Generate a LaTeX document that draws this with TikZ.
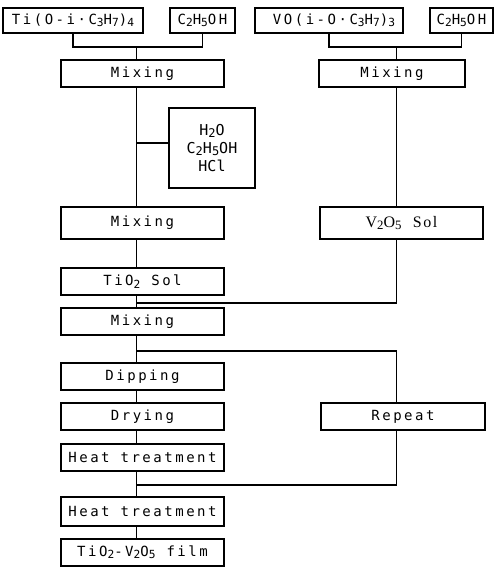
\documentclass[tikz,border=0pt]{standalone}
\usepackage{fontspec}
\usepackage{graphicx}
\usetikzlibrary{positioning}
\newfontfamily\labfont{DejaVu Sans Mono}[LetterSpace=18]
\newfontfamily\chemfont{DejaVu Sans Mono}
\newfontfamily\solfont{Liberation Serif}[LetterSpace=10]
\newcommand{\chs}[1]{\raisebox{-0.3ex}{\scalebox{0.8}{#1}}}

\begin{document}
\begin{tikzpicture}[x=1pt, y=-1pt, line width=1.3pt]
\tikzset{
  stepbox/.style={rectangle, draw=black, fill=white, line width=1.3pt, outer sep=0pt,
    minimum width=163pt, minimum height=27pt, inner xsep=1pt, inner ysep=0pt,
    align=center, font=\labfont\fontsize{14}{16}\selectfont},
  srcbox/.style={stepbox, minimum height=25pt},
  link/.style={draw=black, line width=1.3pt}
}
\useasboundingbox (0,0) rectangle (497,568);

\node[srcbox, anchor=north west, minimum width=140pt] (ti) at (3,8) {Ti(O-i·C\chs{3}H\chs{7})\chs{4}};
\node[srcbox, minimum width=65pt, right=27pt of ti] (etl) {C\chs{2}H\chs{5}OH};
\node[srcbox, minimum width=148pt, right=20pt of etl] (vo) {\hspace*{10pt}VO(i-O·C\chs{3}H\chs{7})\chs{3}};
\node[srcbox, minimum width=63pt, right=27pt of vo] (etr) {C\chs{2}H\chs{5}OH};

\node[stepbox, anchor=north west] (mixa) at (61,60) {Mixing};
\node[stepbox, below=120pt of mixa, minimum height=32pt] (mixb) {Mixing};
\node[stepbox, below=29pt of mixb] (tio) {TiO\chs{2} Sol};
\node[stepbox, below=13pt of tio] (mixc) {Mixing};
\node[stepbox, below=28pt of mixc] (dip) {Dipping};
\node[stepbox, below=13pt of dip] (dry) {Drying};
\node[stepbox, below=14pt of dry] (heata) {Heat treatment};
\node[stepbox, below=26pt of heata, minimum height=29pt] (heatb) {Heat treatment};
\node[stepbox, below=13pt of heatb] (film) {TiO\chs{2}-V\chs{2}O\chs{5} film};

\node[stepbox, anchor=north west, minimum width=86pt, minimum height=80pt,
  font=\chemfont\fontsize{15}{18}\selectfont] (wat) at (169,108)
  {H\chs{2}O\\C\chs{2}H\chs{5}OH\\HCl};

\node[stepbox, minimum width=146pt, right=95pt of mixa] (mixr) {Mixing};
\node[stepbox, minimum height=32pt, right=96pt of mixb,
  font=\solfont\fontsize{16}{18}\selectfont] (vso) {V\chs{2}O\chs{5}\ \ Sol};
\node[stepbox, minimum width=164pt, right=97pt of dry] (rep) {Repeat};

\coordinate (ja) at (136.5,47);
\coordinate (jb) at (396.5,47);
\coordinate (jc) at (136.5,303);
\coordinate (jd) at (136.5,351);
\coordinate (je) at (136.5,485);

\draw[link] (ti.south) |- (ja) -| (etl.south);
\draw[link] (ja) -- (ja |- mixa.north);
\draw[link] (vo.south) |- (jb) -| (etr.south);
\draw[link] (jb) -- (jb |- mixr.north);
\draw[link] (ja |- mixa.south) -- (ja |- mixb.north);
\draw[link] (ja |- wat.west) ++(0,-5) -- ([yshift=5pt]wat.west);
\draw[link] (ja |- mixb.south) -- (ja |- tio.north);
\draw[link] (jb |- mixr.south) -- (jb |- vso.north);
\draw[link] (jb |- vso.south) |- (jc);
\draw[link] (ja |- tio.south) -- (ja |- mixc.north);
\draw[link] (ja |- mixc.south) -- (ja |- dip.north);
\draw[link] (jd) -| (jb |- rep.north);
\draw[link] (ja |- dip.south) -- (ja |- dry.north);
\draw[link] (ja |- dry.south) -- (ja |- heata.north);
\draw[link] (jb |- rep.south) |- (je);
\draw[link] (ja |- heata.south) -- (ja |- heatb.north);
\draw[link] (ja |- heatb.south) -- (ja |- film.north);
\end{tikzpicture}
\end{document}
